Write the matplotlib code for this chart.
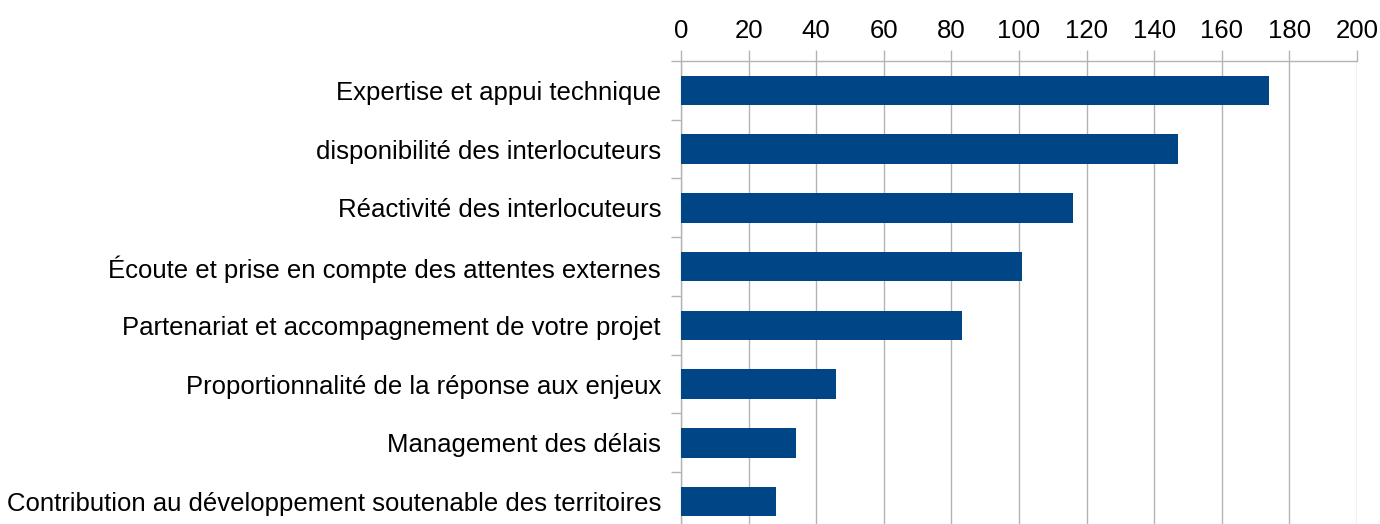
import matplotlib
matplotlib.use("Agg")
import matplotlib.pyplot as plt
import numpy as np

categories = [
    "Expertise et appui technique",
    "disponibilité des interlocuteurs",
    "Réactivité des interlocuteurs",
    "Écoute et prise en compte des attentes externes",
    "Partenariat et accompagnement de votre projet",
    "Proportionnalité de la réponse aux enjeux",
    "Management des délais",
    "Contribution au développement soutenable des territoires",
]
values = [174, 147, 116, 101, 83, 46, 34, 28]
x_ticks = [0, 20, 40, 60, 80, 100, 120, 140, 160, 180, 200]

plt.rcParams['font.family'] = ['Liberation Sans', 'DejaVu Sans']

W, H = 1380, 524
left, right, top, bottom = 681, 1357, 61, 531
fig = plt.figure(figsize=(W / 100, H / 100), dpi=100)
ax = fig.add_axes([left / W, 1 - bottom / H, (right - left) / W, (bottom - top) / H])

y = np.arange(len(categories))
ax.barh(y, values, height=0.5, color="#004586", zorder=3)
ax.set_ylim(len(categories) - 0.5, -0.5)
ax.set_xlim(0, 200)

ax.xaxis.tick_top()
ax.set_xticks(x_ticks)
ax.set_xticklabels([str(t) for t in x_ticks], fontsize=18.5)
ax.tick_params(axis='x', which='major', length=8, width=1, color="#b3b3b3", pad=5)
ax.grid(axis='x', color="#b3b3b3", linewidth=1, zorder=0)

ax.set_yticks(y)
ax.set_yticklabels(categories, fontsize=18.5)
ax.tick_params(axis='y', which='major', length=0, pad=14.4)
ax.set_yticks(np.arange(len(categories) + 1) - 0.5, minor=True)
ax.tick_params(axis='y', which='minor', length=7.2, width=1, color="#b3b3b3")

for s in ['right', 'bottom']:
    ax.spines[s].set_visible(False)
for s in ['top', 'left']:
    ax.spines[s].set_color("#b3b3b3")
    ax.spines[s].set_linewidth(1)

fig.savefig("out.png", dpi=100)
